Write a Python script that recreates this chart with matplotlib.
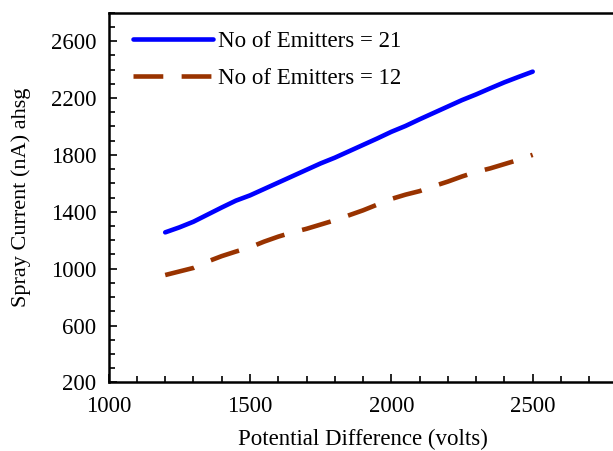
import matplotlib
matplotlib.use("Agg")
import matplotlib.pyplot as plt
from matplotlib.ticker import MultipleLocator

# --- Data ---
volts = [1200, 1250, 1300, 1350, 1400, 1450, 1500, 1550, 1600, 1650, 1700, 1750, 1800,
         1850, 1900, 1950, 2000, 2050, 2100, 2150, 2200, 2250, 2300, 2350, 2400, 2450, 2500]
current_21 = [1255, 1290, 1330, 1380, 1430, 1478, 1515, 1560, 1605, 1650, 1695, 1740, 1780,
              1825, 1870, 1915, 1962, 2003, 2050, 2095, 2140, 2185, 2225, 2268, 2310, 2348, 2385]
current_12 = [955, 980, 1005, 1050, 1088, 1120, 1150, 1190, 1225, 1255, 1280, 1310, 1340,
              1375, 1410, 1450, 1490, 1520, 1545, 1580, 1612, 1648, 1680, 1705, 1735, 1765, 1800]

labels = ["No of Emitters = 21", "No of Emitters = 12"]

plt.rcParams['font.family'] = ['Liberation Serif', 'DejaVu Serif']

fig = plt.figure(figsize=(6.13, 4.51), dpi=100)
ax = fig.add_axes([0.1773, 0.1521, 0.830, 0.8199])

ax.plot(volts, current_21, color='#0000ff', linewidth=3.3, solid_capstyle='round', label=labels[0])
ax.plot(volts, current_12, color='#993300', linewidth=3.3, dashes=(6.5, 4), label=labels[1])

ax.set_xlim(1000, 2800)
ax.set_ylim(200, 2800)
ax.xaxis.set_minor_locator(MultipleLocator(100))
ax.yaxis.set_minor_locator(MultipleLocator(100))
ax.set_xticks([1000, 1500, 2000, 2500])
ax.set_yticks([200, 600, 1000, 1400, 1800, 2200, 2600])

ax.tick_params(which='both', direction='in', top=False, right=False, labelsize=16.5, width=1.2)
ax.tick_params(axis='y', which='major', length=6, pad=9)
ax.tick_params(axis='x', which='major', length=6, pad=10)
ax.tick_params(which='minor', length=4)
for s in ax.spines.values():
    s.set_linewidth(1.8)

ax.set_xlabel('Potential Difference (volts)', fontsize=16.5, labelpad=8)
ax.set_ylabel('Spray Current (nA) ahsg', fontsize=16, labelpad=14.5)

ax.legend(loc='upper left', frameon=False, fontsize=16.5, handlelength=3.5,
          handletextpad=0.2, labelspacing=0.66, borderaxespad=0.0,
          bbox_to_anchor=(0.03, 0.974))

fig.savefig('out.png', dpi=100)
